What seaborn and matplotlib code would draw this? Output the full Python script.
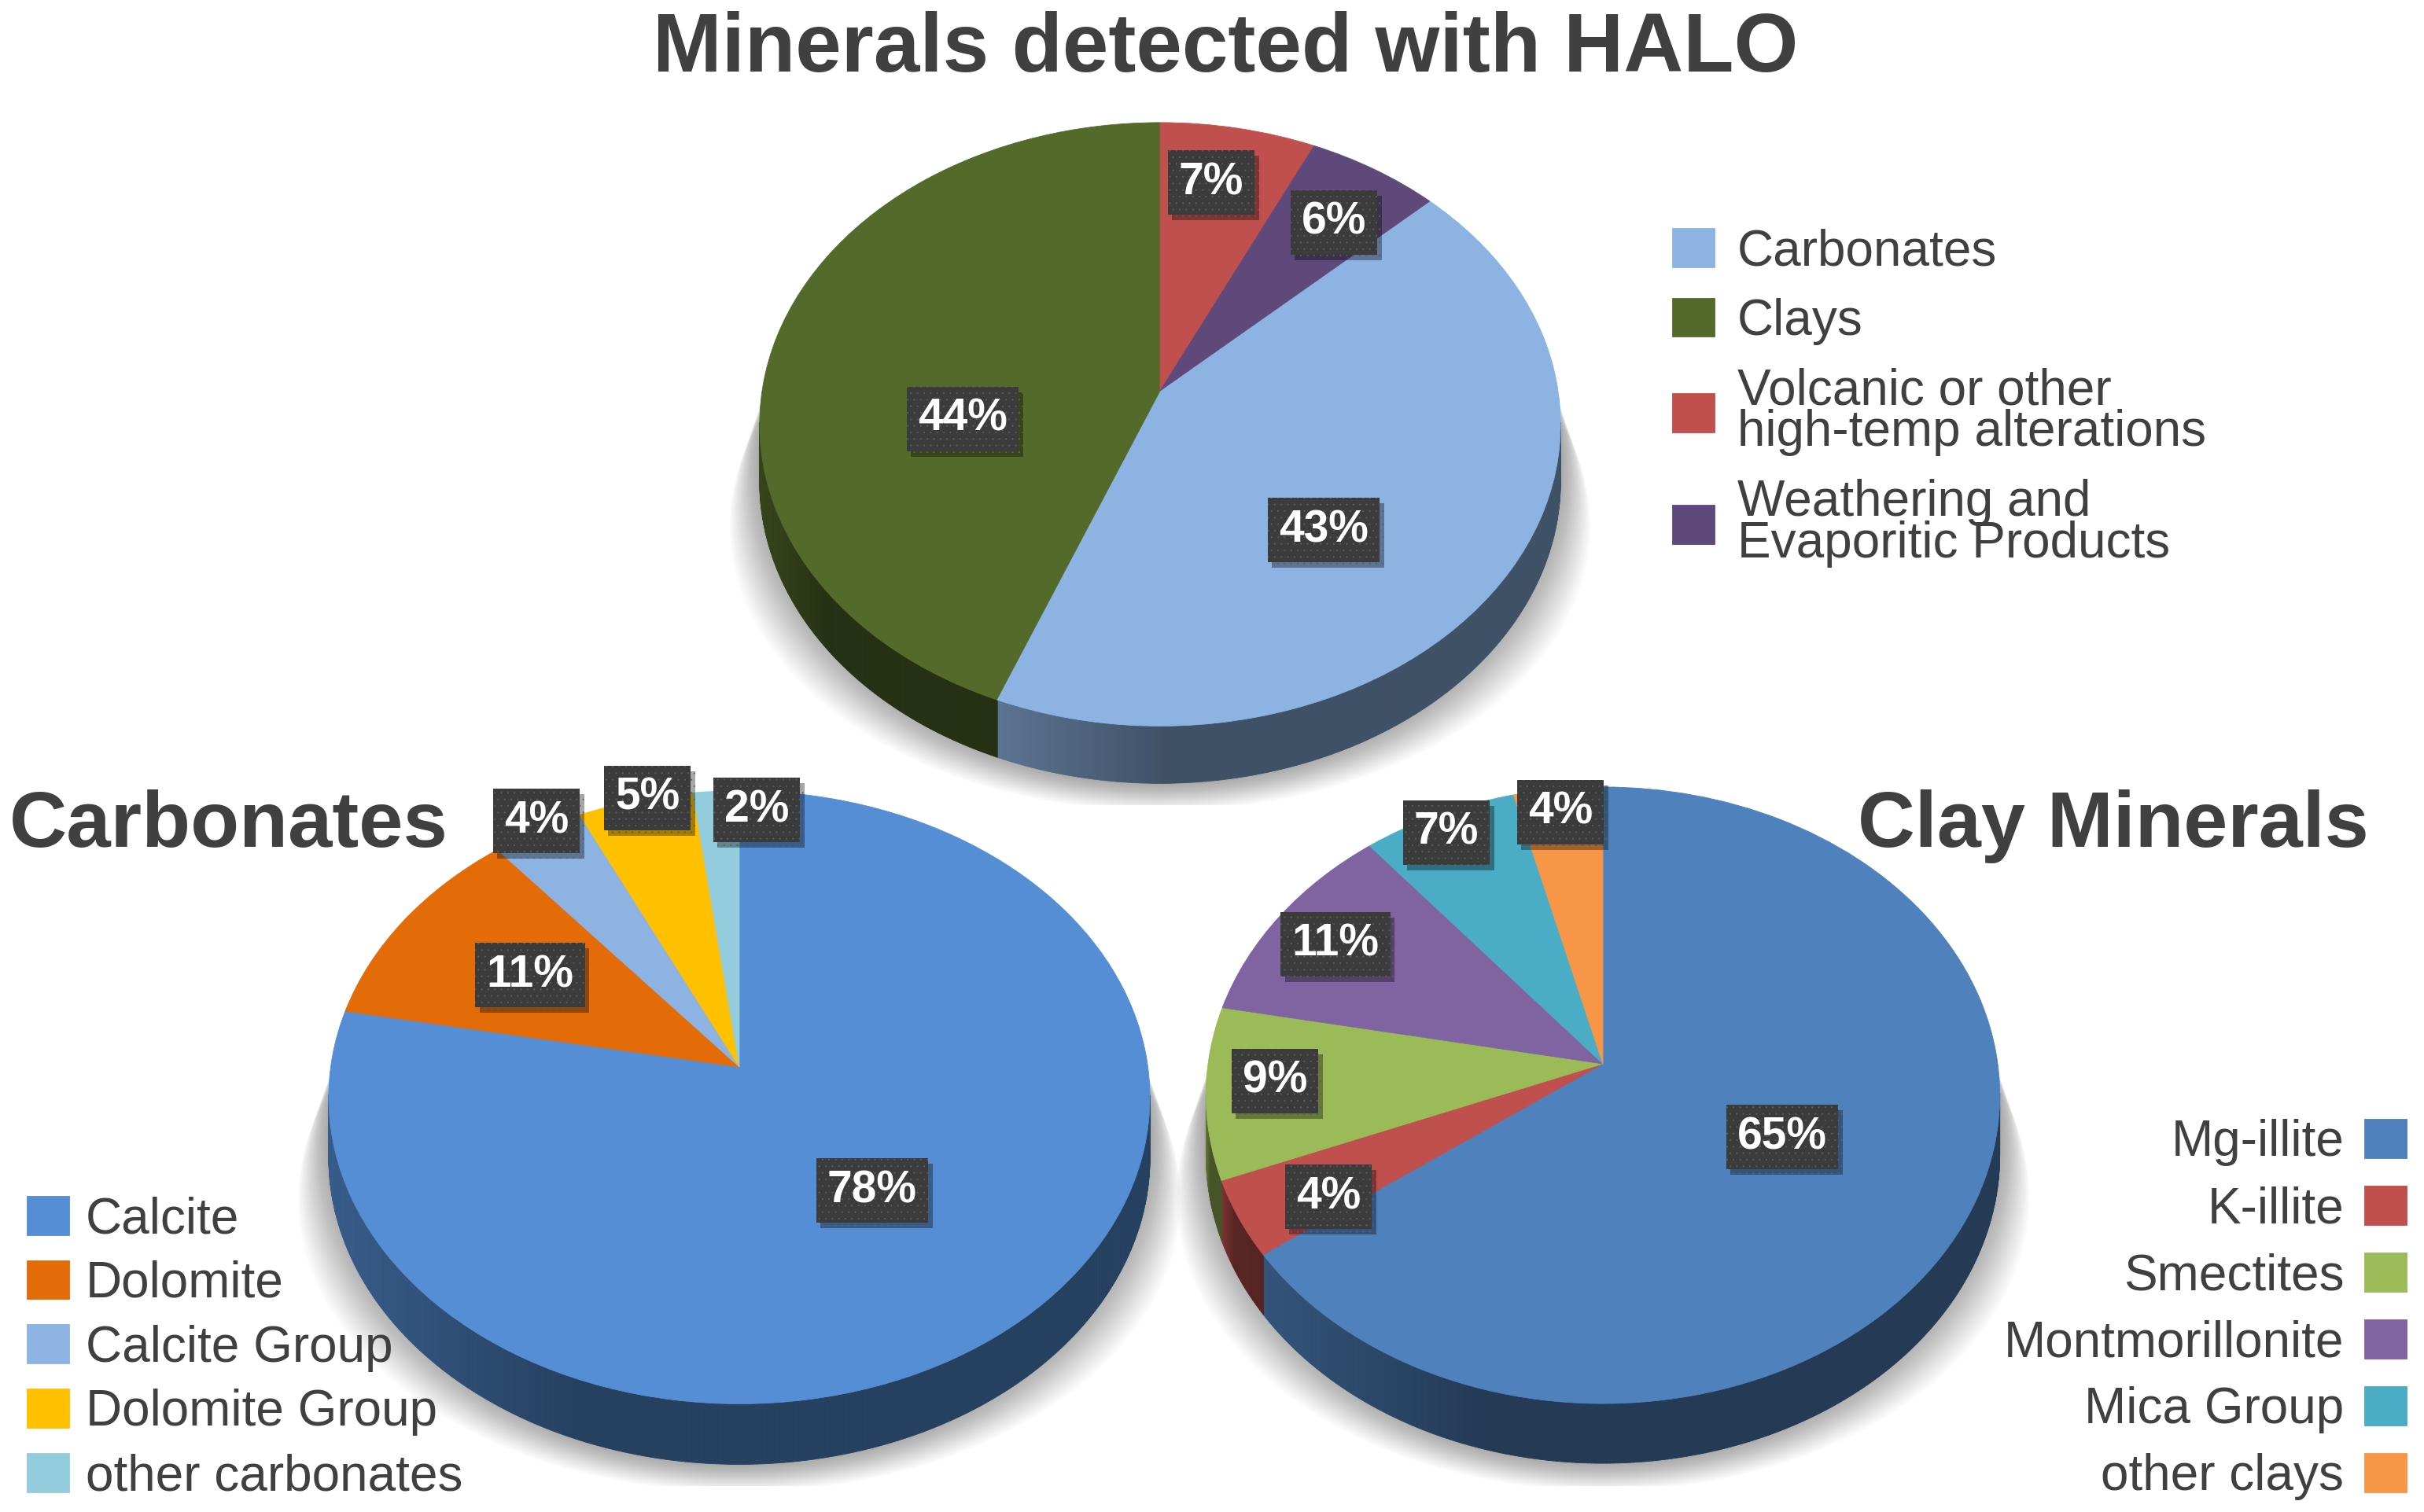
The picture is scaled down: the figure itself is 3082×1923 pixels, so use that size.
import numpy as np
import matplotlib
matplotlib.use('Agg')
import matplotlib.pyplot as plt
import matplotlib.patheffects as pe
from matplotlib.collections import PolyCollection
from matplotlib.patches import Ellipse, Rectangle
from matplotlib.transforms import Transform
import seaborn as sns

halo_names = ['Carbonates', 'Clays', 'Volcanic or other\nhigh-temp alterations',
              'Weathering and\nEvaporitic Products']
halo_values = [43, 44, 7, 6]
halo_colors = ['#8DB3E2', '#546A2B', '#C0504D', '#5F497A']

carb_names = ['Calcite', 'Dolomite', 'Calcite Group', 'Dolomite Group', 'other carbonates']
carb_values = [78, 11, 4, 5, 2]
carb_colors = ['#558ED5', '#E36C09', '#8DB3E2', '#FFC000', '#93CDDD']

clay_names = ['Mg-illite', 'K-illite', 'Smectites', 'Montmorillonite', 'Mica Group', 'other clays']
clay_values = [65, 4, 9, 11, 7, 4]
clay_colors = ['#4F81BD', '#C0504D', '#9BBB59', '#8064A2', '#4BACC6', '#F79646']

TEXT = '#404040'


class Tilt(Transform):
    # perspective view of the unit pie, result is in figure pixels
    input_dims = 2
    output_dims = 2

    def __init__(self, apex, a, b, k):
        super().__init__()
        self.apex, self.a, self.b, self.k = apex, a, b, k

    def transform_non_affine(self, xy):
        xy = np.asarray(xy, dtype=float)
        w = 1 + self.k * xy[:, 1]
        return np.column_stack([self.apex[0] + self.a * xy[:, 0] / w,
                                self.apex[1] - self.b * xy[:, 1] / w])


def draw_pie(ax, values, colors, start, apex, a, b, k, depth, cut):
    tilt = Tilt(apex, a, b, k)

    # soft shadow under the disc
    top, bottom = tilt.transform_non_affine(np.array([[0, 1.0], [0, -1.0]]))[:, 1]
    half_w = a / np.sqrt(1 - k ** 2)
    mid = (top + bottom) / 2
    clip = Rectangle((apex[0] - 2 * a, 0), 4 * a, cut, transform=ax.transData)
    for s in np.linspace(1, 0, 24):
        cy = mid + depth / 2 + s * (130 - depth / 2)
        low = bottom + depth + 35 * s
        sh = Ellipse((apex[0], cy), 2 * half_w * (1 + 0.075 * s), 2 * (low - cy),
                     fc='#000000', ec='none', alpha=0.016, zorder=1)
        ax.add_patch(sh)
        sh.set_clip_path(clip)

    wedges, _ = ax.pie(values, colors=colors, startangle=start, counterclock=False, radius=1)
    for w in wedges:
        w.set_transform(tilt + ax.transData)
        w.set_edgecolor(w.get_facecolor())
        w.set_linewidth(0.6)
        w.set_zorder(3)

    # side wall, one thin quad per half degree, lighter at the left end of each slice
    quads, cols = [], []
    for w, c in zip(wedges, colors):
        th = np.radians(np.arange(w.theta1, w.theta2 + 0.5, 0.5))
        th = th[np.sin(th) < -k * 0.9]
        if len(th) < 2:
            continue
        pts = tilt.transform_non_affine(np.column_stack([np.cos(th), np.sin(th)]))
        order = np.argsort(pts[:, 0])
        pts = pts[order]
        span = max(pts[-1, 0] - pts[0, 0], 1)
        rgb = np.array(matplotlib.colors.to_rgb(c))
        for p0, p1 in zip(pts[:-1], pts[1:]):
            t = (p0[0] - pts[0, 0]) / span
            quads.append([p0, p1, p1 + [0, depth], p0 + [0, depth]])
            cols.append(rgb * (0.45 + 0.2 * max(0, 1 - t / 0.3)))
    ax.add_collection(PolyCollection(quads, facecolors=cols, edgecolors=cols,
                                     linewidths=0.6, zorder=2), autolim=False)
    return wedges


def pct_label(ax, x, y, v):
    t = ax.text(x, y + 4, f'{v}%', ha='center', va='center', color='white', fontsize=41,
                fontweight='bold', zorder=6,
                bbox=dict(boxstyle='square,pad=0.25', fc='#3B3B3B', ec='#5E5E5E',
                          lw=0, hatch='..'))
    t.get_bbox_patch().set_path_effects([
        pe.withSimplePatchShadow(offset=(4, -5), shadow_rgbFace='#000000', alpha=0.35)])


sns.set_theme(style='white')
plt.rcParams['font.family'] = ['Liberation Sans', 'DejaVu Sans']
plt.rcParams['hatch.linewidth'] = 0.3

fig = plt.figure(figsize=(30.82, 19.23), dpi=100)
ax = fig.add_axes([0, 0, 1, 1])

halo_w = draw_pie(ax, halo_values, halo_colors, 90 - 46.8, (1475, 497), 506, 379, 0.111, 73, 1024)
carb_w = draw_pie(ax, carb_values, carb_colors, 90, (940, 1357), 519.5, 386, 0.099, 77, 1890)
clay_w = draw_pie(ax, clay_values, clay_colors, 90, (2038, 1353), 502, 388, 0.102, 76, 1890)

ax.set_aspect('auto')
ax.set_xlim(0, 3082)
ax.set_ylim(1923, 0)
ax.axis('off')
sns.despine(ax=ax, left=True, bottom=True)

for (x, y), v in zip([(1683, 670), (1224, 529), (1540, 228), (1696, 279)], halo_values):
    pct_label(ax, x, y, v)
for (x, y), v in zip([(1109, 1510), (674, 1236), (682, 1040), (823, 1011), (962, 1026)], carb_values):
    pct_label(ax, x, y, v)
for (x, y), v in zip([(2266, 1442), (1689, 1518), (1621, 1371), (1698, 1197), (1839, 1055), (1984, 1029)], clay_values):
    pct_label(ax, x, y, v)

ax.text(1558, 63, 'Minerals detected with HALO', ha='center', va='center',
        fontsize=75.8, fontweight='bold', color=TEXT)
ax.text(12, 1051, 'Carbonates', ha='left', va='center', fontsize=73, fontweight='bold', color=TEXT)
ax.text(3012, 1051, 'Clay Minerals', ha='right', va='center', fontsize=72.5, fontweight='bold', color=TEXT)

legend_style = dict(frameon=False, fontsize=46, labelcolor=TEXT, borderpad=0, borderaxespad=0,
                    handlelength=0.85, handleheight=0.82, bbox_transform=ax.transData)
lg1 = ax.legend(halo_w, halo_names, loc='upper left', bbox_to_anchor=(2126, 290),
                labelspacing=0.45, handletextpad=0.45, **legend_style)
for t in lg1.get_texts():
    t.set_linespacing(0.85)
ax.add_artist(lg1)
lg2 = ax.legend(carb_w, carb_names, loc='lower left', bbox_to_anchor=(34, 1908),
                labelspacing=0.34, handletextpad=0.32, **legend_style)
ax.add_artist(lg2)
lg3 = ax.legend(clay_w, clay_names, loc='lower right', bbox_to_anchor=(3060, 1908),
                labelspacing=0.39, handletextpad=0.4, markerfirst=False, **legend_style)

fig.savefig('out.png', dpi=100, facecolor='white')
